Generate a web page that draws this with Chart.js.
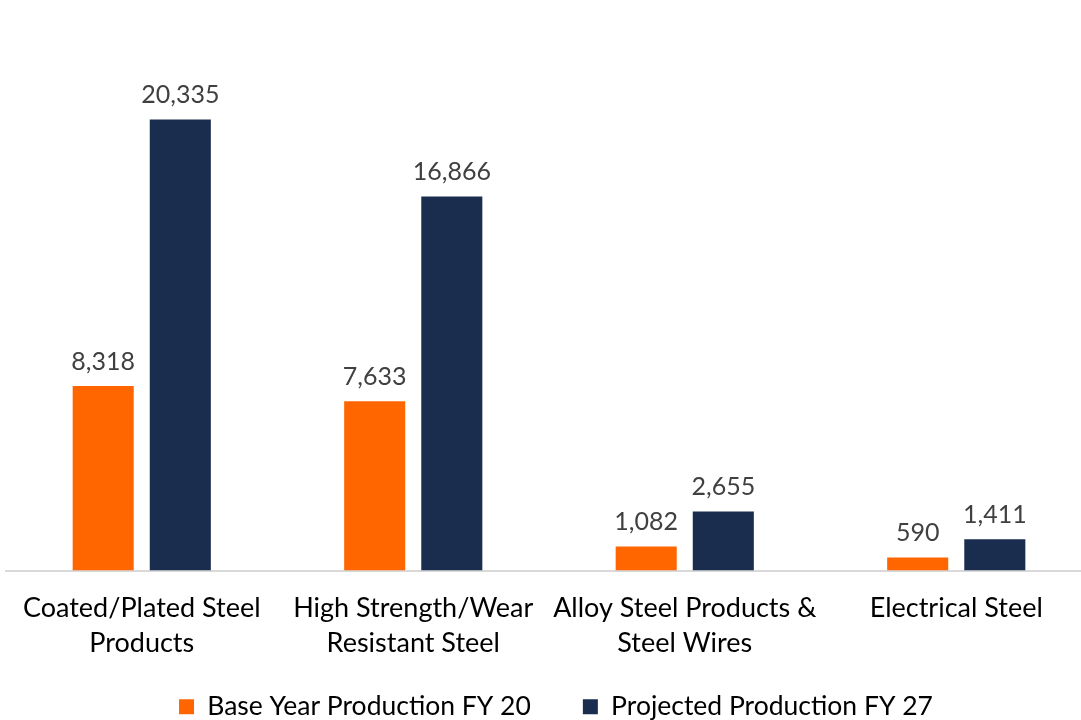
<!DOCTYPE html>
<html>
<head>
<meta charset="utf-8">
<script src="https://cdn.jsdelivr.net/npm/chart.js@4.4.0/dist/chart.umd.min.js"></script>
<style>
  html, body { margin: 0; padding: 0; background: #fff; overflow: hidden; }
  #wrap { width: 1092px; height: 720px; }
</style>
</head>
<body>
<div id="wrap"><canvas id="chart"></canvas></div>
<script>
// chart data
const categories = [
    ['Coated/Plated Steel', 'Products'],
    ['High Strength/Wear', 'Resistant Steel'],
    ['Alloy Steel Products &', 'Steel Wires'],
    ['Electrical Steel']
];
const seriesNames = ['Base Year Production FY 20', 'Projected Production FY 27'];
const baseYear = [8318, 7633, 1082, 590];
const projected = [20335, 16866, 2655, 1411];

const FONT = 'Lato, "Open Sans", sans-serif';

// draws the value above each bar
const valueLabels = {
    id: 'valueLabels',
    afterDatasetsDraw(chart) {
        const ctx = chart.ctx;
        ctx.save();
        ctx.font = '25px ' + FONT;
        ctx.fillStyle = '#404040';
        ctx.textAlign = 'center';
        ctx.textBaseline = 'bottom';
        chart.data.datasets.forEach((ds, i) => {
            chart.getDatasetMeta(i).data.forEach((bar, j) => {
                ctx.fillText(ds.data[j].toLocaleString('en-US'), bar.x, bar.y - 12);
            });
        });
        ctx.restore();
    }
};

// let the two-line category labels run below the shortened axis box,
// and nudge the legend a little to the right
const layoutTweaks = {
    id: 'layoutTweaks',
    afterLayout(chart) {
        chart.scales.x.bottom = chart.height;
        chart.legend.left += 7;
        chart.legend.right += 7;
    }
};

const ctx = document.getElementById('chart').getContext('2d');
new Chart(ctx, {
    type: 'bar',
    data: {
        labels: categories,
        datasets: [
            {
                label: seriesNames[0],
                data: baseYear,
                backgroundColor: '#FF6600',
                barPercentage: 0.792,
                categoryPercentage: 0.568
            },
            {
                label: seriesNames[1],
                data: projected,
                backgroundColor: '#1B2D4F',
                barPercentage: 0.792,
                categoryPercentage: 0.568
            }
        ]
    },
    options: {
        responsive: true,
        maintainAspectRatio: false,
        animation: false,
        devicePixelRatio: 1,
        layout: {
            padding: { top: 16, left: 6, right: 0, bottom: -10 }
        },
        plugins: {
            legend: {
                display: true,
                position: 'bottom',
                labels: {
                    color: '#000',
                    font: { family: FONT, size: 26.5 },
                    boxWidth: 15,
                    boxHeight: 15,
                    padding: 52
                }
            },
            tooltip: { enabled: false }
        },
        scales: {
            x: {
                grid: { display: false, drawTicks: false },
                border: { display: true, color: '#d9d9d9', width: 2 },
                ticks: {
                    color: '#000',
                    font: { family: FONT, size: 27, lineHeight: 1.3 },
                    padding: 20,
                    maxRotation: 0,
                    autoSkip: false
                },
                afterFit(scale) {
                    scale.height = 71;
                }
            },
            y: {
                display: false,
                min: 0,
                max: 25000
            }
        }
    },
    plugins: [valueLabels, layoutTweaks]
});
</script>
</body>
</html>
